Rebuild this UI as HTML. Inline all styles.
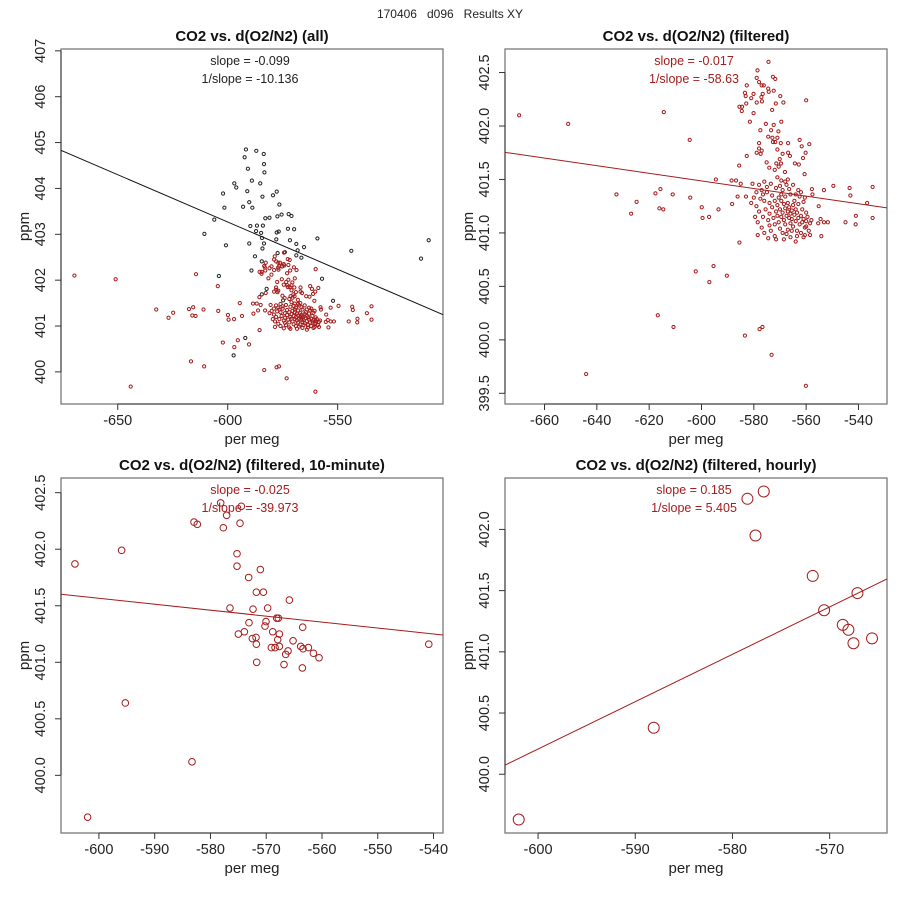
<!DOCTYPE html>
<html><head><meta charset="utf-8"><style>
body{margin:0;background:#fff}
svg{display:block;font-family:"Liberation Sans",sans-serif}
</style></head><body>
<svg id="chart" width="900" height="900" viewBox="0 0 900 900">
<text x="450" y="18" text-anchor="middle" font-size="12" fill="#222" xml:space="preserve">170406   d096   Results XY</text>
</svg>
<script>
// ---- data: filtered raw points (shown red in panels 1 & 2) ----
const filtX = [-669.7,-650.96,-614.4,-604.5,-632.5,-624.8,-626.9,-617.6,-615.7,-611.0,-616.1,-614.6,-604.3,-599.9,-599.6,-597.1,-593.5,-594.5,-588.5,-586.8,-588.3,-586.2,-585.6,-585.5,-602.2,-595.4,-597.0,-590.3,-616.7,-610.7,-583.4,-577.8,-576.7,-573.2,-644.1,-560.1,-560.0,
-549.6,-543.4,-543.1,-534.6,-536.7,-541.0,-534.6,-541.1,-544.97,-553.2,-557.8,-557.6,-555.2,-551.7,-553.2,-554.5,-555.4,-554.2,-558.5,
-574.4,-578.6,-578.9,-572.7,-571.8,-578.0,-577.0,-576.2,-574.5,-574.3,-572.4,-582.7,-583.4,-583.1,-580.1,-581.0,-578.9,-577.1,-576.6,-576.9,-585.5,-584.5,-582.9,-584.6,-580.1,-571.6,-569.9,-568.7,-573.0,-581.5,-575.4,-572.4,-569.5,-577.5,-573.4,-570.6,-574.5,-572.9,-571.0,-569.7,-572.7,-571.8,-578.0,-578.0,-577.0,-578.9,-577.4,-571.0,-566.9,-562.5,-561.7,-558.8,-560.2,-561.2,-569.0,-566.9,-566.2,-582.7,-575.1,-570.1,-571.4,-569.6,-570.5,-564.3,-562.8,-560.6,-568.1,-572.0,-574.1,
-579,-578.5,-578,-577.5,-577,-576.5,-576,-575.5,-575,-574.5,-574,-574,-573.5,-573,-573,-572.5,-572,-572,-571.5,-571.5,-571,-571,-570.5,-570.5,-570,-570,-569.5,-569.5,-569,-569,-569,-568.5,-568.5,-568,-568,-568,-567.5,-567.5,-567,-567,-567,-566.5,-566.5,-566,-566,-566,-565.5,-565.5,-565,-565,-564.5,-564.5,-564,-564,-563.5,-563.5,-563,-563,-562.5,-562.5,-562,-562,-561.5,-561.5,-561,-561,-560.5,-560.5,-560,-560,-559.5,-559,-558.5,-571,-569.5,-567,-565,-563,-576,-578,-580,-574.5,-571.5,-568.5,-566,-564,-578.5,-576,-572,-566.5,-569.5,-575,-562,-564,-560.5,-573.5,-579.5,-577,-581,-570,-568,-565.5,-563.5,-561,-567.5,-574,-576.5,-560,-558,-579,-580.5,-583,-585];
const filtY = [402.10,402.02,402.13,401.87,401.36,401.29,401.18,401.37,401.41,401.36,401.23,401.22,401.33,401.24,401.14,401.15,401.22,401.50,401.49,401.49,401.27,401.34,401.63,400.91,400.64,400.69,400.54,400.60,400.23,400.12,400.04,400.10,400.12,399.86,399.68,399.57,402.24,
401.44,401.42,401.35,401.43,401.28,401.16,401.14,401.08,401.10,401.40,401.41,401.36,401.25,401.10,401.10,401.13,401.09,400.97,400.98,
402.60,402.52,402.45,402.46,402.44,402.41,402.38,402.38,402.35,402.32,402.33,402.38,402.31,402.28,402.30,402.26,402.22,402.27,402.30,402.23,402.18,402.18,402.21,402.14,402.12,402.21,402.28,402.22,402.15,402.04,402.02,402.01,402.04,401.96,401.96,401.95,401.90,401.89,401.89,401.84,401.85,401.85,401.84,401.79,401.77,401.75,401.74,401.78,401.84,401.87,401.81,401.83,401.75,401.70,401.74,401.75,401.72,401.72,401.66,401.69,401.65,401.65,401.62,401.65,401.64,401.55,401.57,401.59,401.61,
401.25,401.10,401.20,401.32,401.05,401.15,401.30,401.22,401.38,401.12,401.18,401.28,401.02,401.24,401.35,401.14,401.30,401.08,401.20,401.42,401.16,401.26,401.33,401.10,401.22,401.04,401.30,401.15,401.40,401.19,401.00,401.27,401.12,401.23,401.34,401.08,401.16,401.45,401.20,401.28,401.03,401.14,401.24,401.18,401.36,401.09,401.21,401.13,401.26,401.06,401.17,401.30,401.11,401.22,401.02,401.19,401.14,401.27,401.08,401.34,401.16,401.00,401.22,401.10,401.13,401.29,401.05,400.98,401.19,401.11,401.15,401.02,401.09,401.52,401.49,401.50,401.45,401.40,401.48,401.45,401.33,400.95,400.94,400.94,400.96,400.92,400.98,401.00,400.97,401.41,401.36,401.43,401.38,401.36,401.33,401.46,401.15,401.40,401.28,401.44,401.48,401.02,400.97,400.96,400.99,401.07,401.36,401.06,401.12,401.38,401.46,401.34,401.46];
// ---- data: points removed by the filter (black, panel 1 only) ----
const rejX = [-591.7,-587.0,-583.6,-592.3,-583.5,-590.8,-583.3,-597.0,-596.1,-589.0,-585.2,-591.1,-602.1,-577.7,-579.4,-584.2,-590.2,-593.0,-601.5,-588.8,-576.5,-582.9,-581.0,-575.5,-572.3,-571.0,-606.1,-577.4,-589.7,-586.7,-584.0,-572.6,-569.8,-610.6,-587.1,-584.8,-577.7,-576.8,-584.4,-577.9,-571.7,-568.8,-559.2,-600.8,-590.2,-583.5,-584.2,-565.3,-577.3,-574.0,-568.2,-568.8,-587.6,-566.5,-543.8,-508.6,-512.1,-584.5,-575.2,-589.2,-604.0,-557.1,-582.3,-584.5,-574.8,-552.1,-592.0,-597.3];
const rejY = [404.85,404.82,404.75,404.68,404.53,404.43,404.35,404.11,404.02,404.17,404.11,403.94,403.89,403.93,403.85,403.82,403.70,403.60,403.58,403.58,403.65,403.35,403.36,403.43,403.44,403.40,403.32,403.39,403.18,403.19,403.19,403.12,403.11,403.01,403.07,403.03,403.04,403.06,402.92,402.89,402.87,402.79,402.91,402.76,402.80,402.80,402.69,402.72,402.59,402.61,402.65,402.54,402.52,402.49,402.64,402.87,402.47,402.41,402.30,402.21,402.09,402.03,401.81,401.69,401.56,401.55,400.74,400.36];
// ---- data: 10-minute averages ----
const tenX = [-604.3,-602.03,-595.93,-595.27,-583.31,-582.95,-582.36,-578.17,-577.1,-577.69,-574.7,-574.46,-575.24,-575.24,-571.05,-573.15,-571.77,-570.51,-565.85,-576.5,-572.37,-569.74,-568.12,-567.82,-570.04,-573.09,-570.22,-563.46,-575.0,-573.92,-568.84,-567.64,-572.49,-571.83,-571.77,-567.94,-565.19,-569.08,-568.42,-567.64,-566.09,-566.51,-563.82,-563.4,-562.44,-561.54,-560.53,-571.71,-566.81,-563.52,-540.85];
const tenY = [401.87,399.63,401.99,400.64,400.12,402.24,402.22,402.41,402.30,402.19,402.23,402.38,401.96,401.85,401.82,401.75,401.62,401.62,401.55,401.48,401.47,401.48,401.39,401.39,401.36,401.35,401.32,401.31,401.25,401.27,401.27,401.25,401.21,401.22,401.16,401.20,401.19,401.13,401.13,401.14,401.10,401.07,401.14,401.12,401.13,401.08,401.04,401.00,400.98,400.95,401.16];
// ---- data: hourly averages ----
const hourX = [-601.99,-588.1,-578.46,-576.78,-577.63,-571.74,-570.57,-568.65,-568.07,-567.55,-567.14,-565.64];
const hourY = [399.63,400.38,402.25,402.31,401.95,401.62,401.34,401.22,401.18,401.07,401.48,401.11];
// ---- fit lines: intercept, slope (ppm = a + b*permeg) ----
const fitA = [390.89, 399.35, 398.41, 423.42];
const fitB = [-0.02063, -0.00356, -0.00526, 0.03869];
// ---- annotations & ticks ----
const titles = ["CO2 vs. d(O2/N2) (all)","CO2 vs. d(O2/N2) (filtered)","CO2 vs. d(O2/N2) (filtered, 10-minute)","CO2 vs. d(O2/N2) (filtered, hourly)"];
const slopeLabels = ["slope = -0.099","slope = -0.017","slope = -0.025","slope = 0.185"];
const invSlopeLabels = ["1/slope = -10.136","1/slope = -58.63","1/slope = -39.973","1/slope = 5.405"];
const xTicks1 = [-650,-600,-550];
const yTicks1 = [400,401,402,403,404,405,406,407];
const xTicks2 = [-660,-640,-620,-600,-580,-560,-540];
const yTicks2 = [399.5,400,400.5,401,401.5,402,402.5];
const xTicks3 = [-600,-590,-580,-570,-560,-550,-540];
const yTicks3 = [400,400.5,401,401.5,402,402.5];
const xTicks4 = [-600,-590,-580,-570];
const yTicks4 = [400,400.5,401,401.5,402];

const NS="http://www.w3.org/2000/svg";
const svg=document.getElementById('chart');
const RED="#a51c1c";
function mk(tag,attrs,parent){const e=document.createElementNS(NS,tag);for(const k in attrs)e.setAttribute(k,attrs[k]);(parent||svg).appendChild(e);return e;}
function fmt(v,dec){return dec?v.toFixed(1):String(v);}

function panel(idx,box,xd,yd,xt,yt,dec,series,r){
  const [L,T,R,B]=box;
  const sx=v=>L+(v-xd[0])/(xd[1]-xd[0])*(R-L);
  const sy=v=>B-(v-yd[0])/(yd[1]-yd[0])*(B-T);
  const g=mk('g',{});
  
  
  const cx=(L+R)/2;
  const t=mk('text',{x:cx,y:T-8,'text-anchor':'middle','font-size':15,'font-weight':'bold',fill:'#111'},g);
  t.textContent=titles[idx];
  
  
  const fr=mk('rect',{x:L,y:T,width:R-L,height:B-T,fill:'none',stroke:'#7a7a7a','stroke-width':1.3},g);
  
  
  const xa=mk('g',{},g);
  
  
  mk('line',{x1:sx(xt[0]),x2:sx(xt[xt.length-1]),y1:B,y2:B,stroke:'#333'},xa);
  xt.forEach(v=>{
    mk('line',{x1:sx(v),x2:sx(v),y1:B,y2:B+6,stroke:'#333'},xa);
    const l=mk('text',{x:sx(v),y:B+21,'text-anchor':'middle','font-size':14.5,fill:'#222'},xa);
    l.textContent=String(v);
    
    
  });
  const xl=mk('text',{x:cx,y:B+40,'text-anchor':'middle','font-size':15,fill:'#222'},g);
  xl.textContent='per meg';
  
  
  const ya=mk('g',{},g);
  
  
  mk('line',{x1:L,x2:L,y1:sy(yt[0]),y2:sy(yt[yt.length-1]),stroke:'#333'},ya);
  yt.forEach(v=>{
    mk('line',{x1:L-6,x2:L,y1:sy(v),y2:sy(v),stroke:'#333'},ya);
    const lx=L-16,ly=sy(v);
    const l=mk('text',{x:lx,y:ly,'text-anchor':'middle','font-size':14.5,fill:'#222',transform:`rotate(-90 ${lx} ${ly})`},ya);
    l.textContent=fmt(v,dec);
    
    
  });
  const yx=L-32,yy=(T+B)/2;
  const yl=mk('text',{x:yx,y:yy,'text-anchor':'middle','font-size':15,fill:'#222',transform:`rotate(-90 ${yx} ${yy})`},g);
  yl.textContent='ppm';
  
  
  const cid='clip'+idx;
  const cp=mk('clipPath',{id:cid},g);mk('rect',{x:L,y:T,width:R-L,height:B-T},cp);
  const pg=mk('g',{'clip-path':`url(#${cid})`},g);
  series.forEach(s=>{
    s.xs.forEach((xv,i)=>{
      const c=mk('circle',{cx:sx(xv),cy:sy(s.ys[i]),r:r,fill:'none',stroke:s.color,'stroke-width':1},pg);
      
      
    });
  });
  const lc=idx===0?'#111':RED;
  const fl=mk('line',{x1:sx(xd[0]),y1:sy(fitA[idx]+fitB[idx]*xd[0]),x2:sx(xd[1]),y2:sy(fitA[idx]+fitB[idx]*xd[1]),stroke:lc,'stroke-width':1},pg);
  
  
  const ac=idx===0?'#222':RED;
  const a1=mk('text',{x:cx-2,y:T+16,'text-anchor':'middle','font-size':12.5,fill:ac},g);
  a1.textContent=slopeLabels[idx];
  
  
  const a2=mk('text',{x:cx-2,y:T+34,'text-anchor':'middle','font-size':12.5,fill:ac},g);
  a2.textContent=invSlopeLabels[idx];
  
  
}

panel(0,[61,49,443,404],[-675.8,-502.1],[399.3,407.04],xTicks1,yTicks1,false,
  [{xs:rejX,ys:rejY,color:'#222',name:'rejected-point'},{xs:filtX,ys:filtY,color:RED,name:'filtered-point'}],1.6);
panel(1,[505,49,887,404],[-675.1,-529.1],[399.4,402.72],xTicks2,yTicks2,true,
  [{xs:filtX,ys:filtY,color:RED,name:'filtered-point'}],1.6);
panel(2,[61,478,443,833],[-606.8,-538.3],[399.49,402.63],xTicks3,yTicks3,true,
  [{xs:tenX,ys:tenY,color:RED,name:'ten-minute-point'}],3.3);
panel(3,[505,478,887,833],[-603.4,-564.1],[399.52,402.42],xTicks4,yTicks4,true,
  [{xs:hourX,ys:hourY,color:RED,name:'hourly-point'}],5.5);
</script>
</body></html>
